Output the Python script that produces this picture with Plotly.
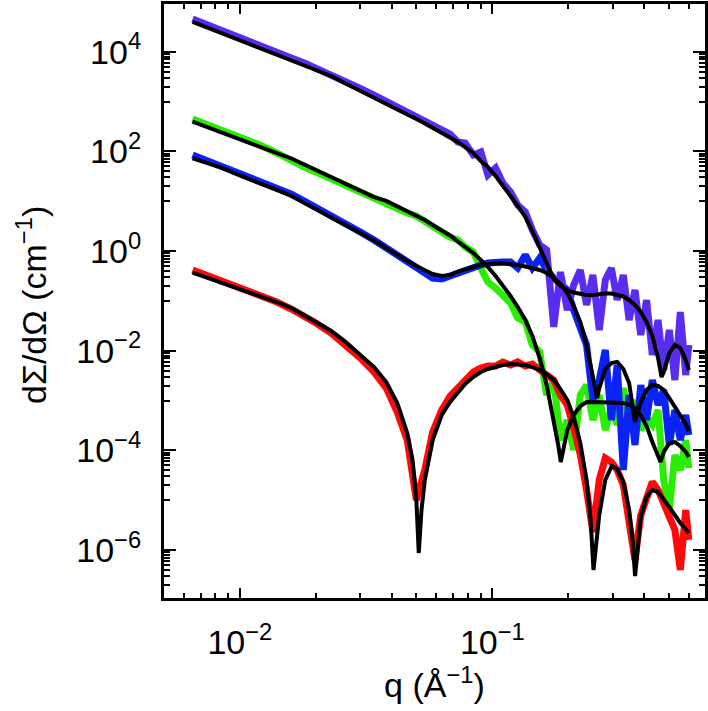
import plotly.graph_objects as go

# ---------------- data ----------------
q_data = [0.0065, 0.0075, 0.0085, 0.01, 0.012, 0.014, 0.016, 0.018, 0.02, 0.023,
          0.026, 0.03, 0.034, 0.038, 0.042, 0.046, 0.05, 0.054, 0.058, 0.063,
          0.068, 0.073, 0.078, 0.084, 0.09, 0.096, 0.103, 0.11, 0.118, 0.126,
          0.135, 0.144, 0.154, 0.164, 0.175, 0.186, 0.198, 0.21, 0.223, 0.236,
          0.25, 0.265, 0.28, 0.296, 0.312, 0.33, 0.348, 0.367, 0.387, 0.408,
          0.43, 0.453, 0.477, 0.502, 0.528, 0.555, 0.583, 0.6]

I_purple = [4.53e4, 3.36e4, 2.60e4, 1.88e4, 1.30e4, 9.64e3, 7.47e3, 5.93e3, 4.71e3, 3.57e3,
            2.58e3, 1.83e3, 1.35e3, 1.02e3, 777, 646, 489, 426, 338, 268,
            223, 154, 147, 84.5, 97.1, 33.5, 46.4, 23.2, 15.3, 8.39,
            6.07, 2.64, 1.32, 1.05, 0.03, 0.379, 0.0655, 0.208, 0.416, 0.0826,
            0.330, 0.0260, 0.262, 0.456, 0.104, 0.330, 0.0413, 0.165, 0.0206, 0.104,
            0.00819, 0.0413, 0.00410, 0.0260, 0.00258, 0.0598, 0.00325, 0.0130]

I_green = [446, 338, 262, 194, 134, 92.7, 64.0, 48.5, 38.5, 27.9,
           20.2, 15.3, 11.6, 9.20, 7.30, 5.79, 5.04, 3.82, 3.18, 2.41,
           1.91, 1.66, 1.20, 0.956, 0.456, 0.239, 0.181, 0.131, 0.0906, 0.0453,
           0.0376, 0.0130, 0.00941, 0.00129, 0.00258, 1.61e-4, 4.06e-4, 1.02e-4, 1.29e-3, 2.05e-3,
           4.06e-4, 1.29e-3, 2.56e-4, 7.08e-4, 3.23e-4, 1.78e-3, 4.06e-4, 1.02e-3, 2.56e-4, 4.46e-4,
           3.23e-4, 6.45e-4, 2.54e-5, 6.35e-6, 8.06e-5, 4.03e-5, 1.61e-4, 4.42e-5]

I_blue = [84.5, 64.0, 50.8, 36.8, 25.4, 18.4, 13.9, 10.1, 7.64, 5.28,
          3.65, 2.41, 1.66, 1.15, 0.795, 0.575, 0.456, 0.346, 0.287, 0.274,
          0.315, 0.379, 0.416, 0.500, 0.524, 0.575, 0.602, 0.602, 0.602, 0.456,
          0.832, 0.456, 0.724, 0.416, 0.287, 0.208, 0.165, 0.0655, 0.0260, 0.0130,
          1.02e-3, 2.58e-3, 0.0103, 4.06e-4, 5.16e-3, 4.03e-5, 1.29e-3, 1.28e-4, 2.05e-3, 4.06e-4,
          2.58e-3, 8.13e-4, 1.63e-3, 1.28e-4, 6.45e-4, 1.61e-4, 5.12e-4, 2.03e-4]

I_red = [0.416, 0.315, 0.250, 0.190, 0.131, 0.0948, 0.0686, 0.0497, 0.0359, 0.0226,
         0.0136, 0.00713, 0.00373, 0.00178, 5.88e-4, 1.61e-4, 1.01e-5, 4.03e-5, 2.33e-4, 6.45e-4,
         1.23e-3, 1.78e-3, 2.58e-3, 3.73e-3, 4.49e-3, 4.93e-3, 4.93e-3, 5.93e-3, 5.16e-3, 5.93e-3,
         4.93e-3, 5.40e-3, 4.10e-3, 3.40e-3, 2.58e-3, 1.29e-3, 8.13e-4, 2.81e-4, 8.06e-5, 1.60e-5,
         2.30e-6, 2.54e-5, 7.02e-5, 5.84e-5, 4.03e-5, 2.02e-5, 4.00e-6, 6.30e-7, 5.04e-6, 1.01e-5,
         2.32e-5, 1.60e-5, 8.00e-6, 5.04e-6, 2.52e-6, 3.97e-7, 6.35e-6, 1.59e-6]

# ---------------- model fits ----------------
q_fit_purple = [0.0065, 0.0075, 0.0085, 0.01, 0.012, 0.014, 0.016, 0.018, 0.02, 0.023,
                0.026, 0.03, 0.034, 0.038, 0.042, 0.046, 0.05, 0.054, 0.058, 0.063,
                0.068, 0.073, 0.078, 0.084, 0.09, 0.096, 0.103, 0.11, 0.118, 0.126,
                0.135, 0.144, 0.154, 0.164, 0.175, 0.186, 0.198, 0.21, 0.223, 0.236,
                0.25, 0.265, 0.28, 0.296, 0.312, 0.33, 0.348, 0.367, 0.387, 0.408,
                0.43, 0.453, 0.4677, 0.477, 0.502, 0.528, 0.555, 0.583, 0.6]
fit_purple = [3.95e4, 2.99e4, 2.32e4, 1.72e4, 1.19e4, 8.79e3, 6.81e3, 5.41e3, 4.39e3, 3.25e3,
              2.35e3, 1.66e3, 1.20e3, 892, 692, 562, 446, 362, 294, 239,
              194, 154, 122, 92.7, 64.0, 48.5, 32.0, 21.1, 12.7, 8.01,
              4.82, 2.52, 1.15, 0.524, 0.274, 0.199, 0.165, 0.147, 0.137, 0.131,
              0.131, 0.137, 0.1405, 0.1405, 0.134, 0.1223, 0.104, 0.0826, 0.0598, 0.0376,
              0.0197, 0.00713, 0.00296, 0.00373, 0.00899, 0.0130, 0.0113, 0.0065, 0.00409]

q_fit_green = [0.0065, 0.0075, 0.0085, 0.01, 0.012, 0.014, 0.016, 0.018, 0.02, 0.023,
               0.026, 0.03, 0.034, 0.038, 0.042, 0.046, 0.05, 0.054, 0.058, 0.063,
               0.068, 0.073, 0.078, 0.084, 0.09, 0.096, 0.103, 0.11, 0.118, 0.126,
               0.135, 0.144, 0.154, 0.164, 0.175, 0.1823, 0.1866, 0.1909, 0.198, 0.21,
               0.223, 0.236, 0.25, 0.265, 0.28, 0.296, 0.312, 0.33, 0.348, 0.367,
               0.387, 0.408, 0.43, 0.453, 0.4634, 0.477, 0.502, 0.528, 0.555, 0.583, 0.6]
fit_green = [394, 301, 239, 177, 125, 94.9, 71.9, 54.5, 42.3, 30.6,
             22.6, 16.0, 12.1, 10.1, 7.83, 6.21, 5.16, 4.19, 3.33, 2.58,
             2.05, 1.55, 1.23, 0.913, 0.660, 0.478, 0.315, 0.208, 0.125, 0.0752,
             0.0413, 0.0197, 0.00713, 0.00205, 4.06e-4, 1.28e-4, 5.84e-5, 1.11e-4, 2.56e-4, 5.12e-4,
             7.76e-4, 9.34e-4, 9.34e-4, 9.34e-4, 9.12e-4, 9.12e-4, 8.91e-4, 8.91e-4, 8.32e-4, 7.08e-4,
             5.12e-4, 3.08e-4, 1.47e-4, 7.35e-5, 5.84e-5, 9.26e-5, 1.40e-4, 1.47e-4, 1.22e-4, 9.26e-5, 7.35e-5]

q_fit_blue = [0.0065, 0.0075, 0.0085, 0.01, 0.012, 0.014, 0.016, 0.018, 0.02, 0.023,
              0.026, 0.03, 0.034, 0.038, 0.042, 0.046, 0.05, 0.054, 0.058, 0.063,
              0.068, 0.073, 0.078, 0.084, 0.09, 0.096, 0.103, 0.11, 0.118, 0.126,
              0.135, 0.144, 0.154, 0.164, 0.175, 0.186, 0.198, 0.21, 0.223, 0.236,
              0.25, 0.26, 0.265, 0.28, 0.296, 0.312, 0.33, 0.348, 0.367, 0.387,
              0.408, 0.43, 0.453, 0.477, 0.502, 0.528, 0.555, 0.583, 0.6]
fit_blue = [72.6, 57.1, 46.4, 32.8, 23.2, 16.8, 12.7, 9.20, 6.81, 4.82,
            3.49, 2.30, 1.63, 1.15, 0.832, 0.631, 0.500, 0.406, 0.346, 0.315,
            0.330, 0.388, 0.436, 0.478, 0.524, 0.549, 0.562, 0.562, 0.549, 0.524,
            0.489, 0.456, 0.416, 0.362, 0.287, 0.218, 0.144, 0.0788, 0.0376, 0.0130,
            0.00325, 0.00112, 0.00178, 0.00429, 0.00566, 0.00593, 0.00429, 0.00225, 3.70e-4, 9.34e-4,
            0.00163, 0.00205, 0.00196, 0.00163, 0.00112, 7.41e-4, 4.89e-4, 3.38e-4, 2.44e-4]

q_fit_red = [0.0065, 0.0075, 0.0085, 0.01, 0.012, 0.014, 0.016, 0.018, 0.02, 0.023,
             0.026, 0.03, 0.034, 0.038, 0.042, 0.046, 0.0483, 0.05, 0.0511, 0.0524,
             0.054, 0.058, 0.063, 0.068, 0.073, 0.078, 0.084, 0.09, 0.096, 0.103,
             0.11, 0.118, 0.126, 0.135, 0.144, 0.154, 0.164, 0.175, 0.186, 0.198,
             0.21, 0.223, 0.236, 0.245, 0.2514, 0.2577, 0.265, 0.28, 0.297, 0.312,
             0.33, 0.348, 0.359, 0.3674, 0.3759, 0.387, 0.408, 0.43, 0.453, 0.477,
             0.502, 0.528, 0.555, 0.583, 0.6]
fit_red = [0.367, 0.287, 0.234, 0.177, 0.128, 0.0948, 0.0719, 0.0520, 0.0376, 0.0248,
           0.0156, 0.00819, 0.00470, 0.00235, 8.91e-4, 2.23e-4, 6.40e-5, 1.01e-5, 8.71e-7, 6.35e-6,
           2.54e-5, 1.61e-4, 5.12e-4, 9.34e-4, 0.00148, 0.00215, 0.00296, 0.00373, 0.00429, 0.00482,
           0.00516, 0.00540, 0.00540, 0.00516, 0.00470, 0.00410, 0.00340, 0.00258, 0.00170, 0.00102,
           4.67e-4, 1.40e-4, 2.54e-5, 4.00e-6, 3.97e-7, 1.59e-6, 5.04e-6, 2.54e-5, 4.85e-5, 4.22e-5,
           2.32e-5, 6.35e-6, 1.59e-6, 3.01e-7, 1.26e-6, 4.60e-6, 1.16e-5, 1.60e-5, 1.46e-5, 1.06e-5,
           7.30e-6, 5.04e-6, 3.48e-6, 2.64e-6, 2.19e-6]

# ---------------- ticks & labels ----------------
x_tickvals = [0.01, 0.1]
x_ticktext = ["10<sup>−2</sup>", "10<sup>−1</sup>"]
x_minor = [k * 10.0 ** e for e in (-3, -2, -1) for k in range(2, 10)]

y_tickvals = [1e-6, 1e-4, 1e-2, 1, 1e2, 1e4]
y_ticktext = ["10<sup>−6</sup>", "10<sup>−4</sup>", "10<sup>−2</sup>",
              "10<sup>0</sup>", "10<sup>2</sup>", "10<sup>4</sup>"]
y_minor = [k * 10.0 ** (e - 1) for e in (-6, -4, -2, 0, 2, 4) for k in range(1, 10)]

x_title = "q (Å<sup>−1</sup>)"
y_title = "dΣ/dΩ (cm<sup>−1</sup>)"

colors = {"purple": "#5a2cf0", "green": "#2aee00", "blue": "#0a22f8", "red": "#ff0a0a"}

fig = go.Figure()
for q, I, c in [(q_data, I_green, colors["green"]),
                (q_data, I_red, colors["red"]),
                (q_data, I_blue, colors["blue"]),
                (q_data, I_purple, colors["purple"])]:
    fig.add_trace(go.Scatter(x=q, y=I, mode="lines", line=dict(color=c, width=7),
                             showlegend=False, hoverinfo="skip"))
for q, I in [(q_fit_green, fit_green), (q_fit_red, fit_red),
             (q_fit_blue, fit_blue), (q_fit_purple, fit_purple)]:
    fig.add_trace(go.Scatter(x=q, y=I, mode="lines", line=dict(color="black", width=4),
                             showlegend=False, hoverinfo="skip"))

FONT = "Liberation Sans, Arial, Helvetica, sans-serif"
axis_common = dict(type="log", showgrid=False, zeroline=False, showline=True,
                   linewidth=3, linecolor="black", mirror="allticks", automargin=False,
                   ticks="inside", tickwidth=2, tickcolor="black",
                   tickfont=dict(family=FONT, size=34, color="black"))

fig.update_layout(
    width=708, height=711, autosize=False,
    margin=dict(l=164, r=3, t=4, b=113),
    paper_bgcolor="white", plot_bgcolor="white",
    xaxis=dict(**axis_common, range=[-2.3004, -0.158], tickmode="array",
               tickvals=x_tickvals, ticktext=x_ticktext, ticklen=10,
               ticklabelstandoff=12,
               minor=dict(tickmode="array", tickvals=x_minor, ticks="inside",
                          ticklen=5, tickwidth=2, tickcolor="black", showgrid=False),
               title=dict(text=x_title, standoff=14,
                          font=dict(family=FONT, size=34, color="black"))),
    yaxis=dict(**axis_common, range=[-6.963, 4.957], tickmode="array",
               tickvals=y_tickvals, ticktext=y_ticktext, ticklen=12,
               ticklabelstandoff=13,
               minor=dict(tickmode="array", tickvals=y_minor, ticks="inside",
                          ticklen=6, tickwidth=2, tickcolor="black", showgrid=False)),
    annotations=[dict(text=y_title, xref="paper", yref="paper", x=0, y=0.5,
                      xshift=-133, yshift=-4, xanchor="center", yanchor="middle",
                      textangle=-90, showarrow=False,
                      font=dict(family=FONT, size=34, color="black"))],
)

post = ("document.documentElement.style.margin='0';"
        "document.body.style.margin='0';document.body.style.padding='0';"
        "document.body.style.overflow='hidden';"
        "var gd=document.getElementById('{plot_id}');"
        "gd.style.width='708px';gd.style.height='711px';"
        "Plotly.relayout(gd,{width:708,height:711});")

fig.write_html("out.html", post_script=post,
               config={"responsive": False, "displayModeBar": False})
